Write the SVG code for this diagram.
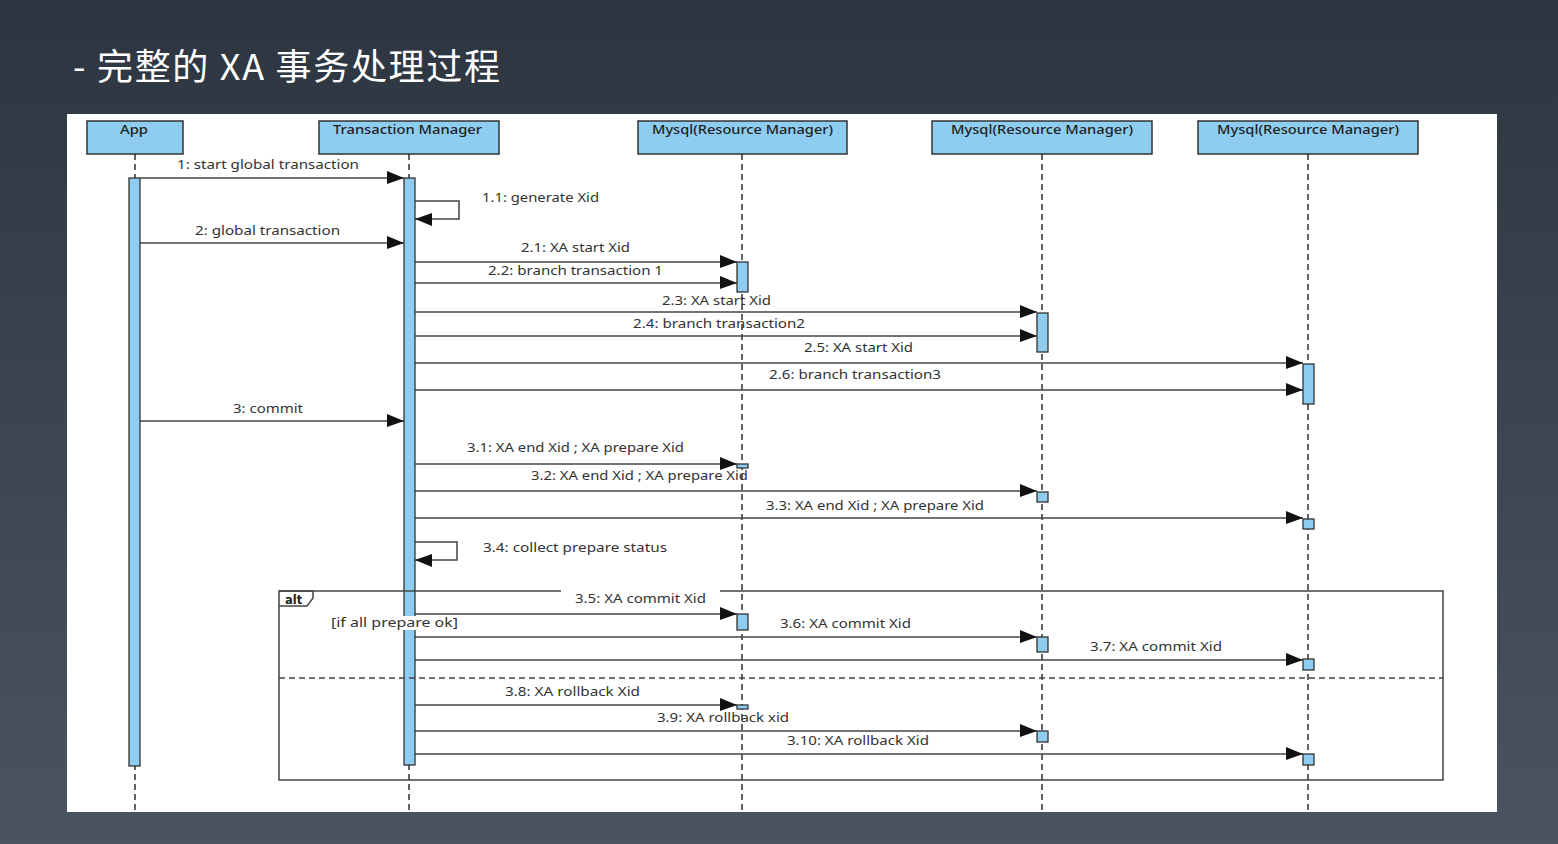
<svg xmlns="http://www.w3.org/2000/svg" width="1558" height="844" viewBox="0 0 1558 844">
<defs>
<linearGradient id="bg" x1="0" y1="0" x2="0" y2="1">
<stop offset="0" stop-color="#2d3540"/>
<stop offset="1" stop-color="#4a5461"/>
</linearGradient>
<marker id="arr" markerUnits="userSpaceOnUse" markerWidth="18" markerHeight="14" viewBox="0 0 18 14" refX="17" refY="7" orient="auto">
<path d="M0,0 L17,7 L0,13 Z" fill="#111"/>
</marker>
<style>
.hdr{fill:#8ecdf0;stroke:#333;stroke-width:1.5}
.act{fill:#8ecdf0;stroke:#333;stroke-width:1.3}
.life{stroke:#222;stroke-width:1.4;stroke-dasharray:6 4;fill:none}
.msg{stroke:#444;stroke-width:1.5;fill:none;marker-end:url(#arr)}
.frame{stroke:#444;stroke-width:1.5;fill:none}
.lbl{font-family:"Noto Sans","DejaVu Sans",sans-serif;font-size:12.5px;fill:#333}
.hl{font-family:"Noto Sans","DejaVu Sans",sans-serif;font-size:13px;font-weight:500;fill:#222}
.title{font-family:"Noto Sans CJK SC","Noto Sans",sans-serif;font-size:36px;fill:#ffffff}
</style>
</defs>
<rect x="0" y="0" width="1558" height="844" fill="url(#bg)"/>
<text class="title" x="73" y="80" textLength="427" lengthAdjust="spacing">- 完整的 XA 事务处理过程</text>
<rect x="67" y="114" width="1430" height="698" fill="#ffffff"/>

<g id="app">
<rect class="hdr" x="87" y="121" width="96" height="33"/>
<text class="hl" x="120" y="134" textLength="28" lengthAdjust="spacingAndGlyphs">App</text>
<line class="life" x1="135" y1="154" x2="135" y2="812"/>
<rect class="act" x="129" y="178" width="11" height="588"/>
</g>

<g id="tm">
<rect class="hdr" x="319" y="121" width="180" height="33"/>
<text class="hl" x="333" y="134" textLength="149" lengthAdjust="spacingAndGlyphs">Transaction Manager</text>
<line class="life" x1="409" y1="154" x2="409" y2="812"/>
<rect class="act" x="404" y="178" width="11" height="587"/>
</g>

<g id="rm1">
<rect class="hdr" x="638" y="121" width="209" height="33"/>
<text class="hl" x="652" y="134" textLength="181" lengthAdjust="spacingAndGlyphs">Mysql(Resource Manager)</text>
<line class="life" x1="742" y1="154" x2="742" y2="812"/>
<rect class="act" x="737" y="262" width="11" height="30"/>
<rect class="act" x="737" y="464" width="11" height="4"/>
<rect class="act" x="737" y="614" width="11" height="16"/>
<rect class="act" x="737" y="705" width="11" height="4"/>
</g>

<g id="rm2">
<rect class="hdr" x="932" y="121" width="220" height="33"/>
<text class="hl" x="951" y="134" textLength="182" lengthAdjust="spacingAndGlyphs">Mysql(Resource Manager)</text>
<line class="life" x1="1042" y1="154" x2="1042" y2="812"/>
<rect class="act" x="1037" y="313" width="11" height="39"/>
<rect class="act" x="1037" y="492" width="11" height="10"/>
<rect class="act" x="1037" y="637" width="11" height="15"/>
<rect class="act" x="1037" y="731" width="11" height="11"/>
</g>

<g id="rm3">
<rect class="hdr" x="1198" y="121" width="220" height="33"/>
<text class="hl" x="1217" y="134" textLength="182" lengthAdjust="spacingAndGlyphs">Mysql(Resource Manager)</text>
<line class="life" x1="1308" y1="154" x2="1308" y2="812"/>
<rect class="act" x="1303" y="364" width="11" height="40"/>
<rect class="act" x="1303" y="519" width="11" height="10"/>
<rect class="act" x="1303" y="659" width="11" height="11"/>
<rect class="act" x="1303" y="754" width="11" height="11"/>
</g>

<g id="frame-alt">
<path class="frame" d="M561,591 H279 V780 H1443 V591 H720"/>
<path class="frame" d="M279,591 H313 V598 L307,606 H279" fill="#fff"/>
<text x="285" y="604" style="font-family:'DejaVu Sans','Liberation Sans',sans-serif;font-size:11.5px;font-weight:bold;fill:#222">alt</text>
<line x1="279" y1="678" x2="1443" y2="678" stroke="#444" stroke-width="1.4" stroke-dasharray="6 4"/>
<rect x="329" y="616" width="131" height="14" fill="#ffffff"/>
<text class="lbl" x="331" y="627" textLength="127" lengthAdjust="spacingAndGlyphs">[if all prepare ok]</text>
</g>

<g id="connectors">
<line class="msg" x1="140" y1="178" x2="404" y2="178"/>
<path class="msg" d="M415,201 H459 V219 H415"/>
<line class="msg" x1="140" y1="243" x2="404" y2="243"/>
<line class="msg" x1="415" y1="262" x2="737" y2="262"/>
<line class="msg" x1="415" y1="283" x2="737" y2="283"/>
<line class="msg" x1="415" y1="312" x2="1037" y2="312"/>
<line class="msg" x1="415" y1="336" x2="1037" y2="336"/>
<line class="msg" x1="415" y1="363" x2="1303" y2="363"/>
<line class="msg" x1="415" y1="390" x2="1303" y2="390"/>
<line class="msg" x1="140" y1="421" x2="404" y2="421"/>
<line class="msg" x1="415" y1="464" x2="737" y2="464"/>
<line class="msg" x1="415" y1="491" x2="1037" y2="491"/>
<line class="msg" x1="415" y1="518" x2="1303" y2="518"/>
<path class="msg" d="M415,542 H457 V560 H415"/>
<line class="msg" x1="415" y1="614" x2="737" y2="614"/>
<line class="msg" x1="415" y1="637" x2="1037" y2="637"/>
<line class="msg" x1="415" y1="660" x2="1303" y2="660"/>
<line class="msg" x1="415" y1="705" x2="737" y2="705"/>
<line class="msg" x1="415" y1="731" x2="1037" y2="731"/>
<line class="msg" x1="415" y1="754" x2="1303" y2="754"/>

<text class="lbl" x="177" y="169" textLength="182" lengthAdjust="spacingAndGlyphs">1: start global transaction</text>
<text class="lbl" x="482" y="202" textLength="117" lengthAdjust="spacingAndGlyphs">1.1: generate Xid</text>
<text class="lbl" x="195" y="235" textLength="145" lengthAdjust="spacingAndGlyphs">2: global transaction</text>
<text class="lbl" x="521" y="252" textLength="109" lengthAdjust="spacingAndGlyphs">2.1: XA start Xid</text>
<text class="lbl" x="488" y="275" textLength="175" lengthAdjust="spacingAndGlyphs">2.2: branch transaction 1</text>
<text class="lbl" x="662" y="305" textLength="109" lengthAdjust="spacingAndGlyphs">2.3: XA start Xid</text>
<text class="lbl" x="633" y="328" textLength="172" lengthAdjust="spacingAndGlyphs">2.4: branch transaction2</text>
<text class="lbl" x="804" y="352" textLength="109" lengthAdjust="spacingAndGlyphs">2.5: XA start Xid</text>
<text class="lbl" x="769" y="379" textLength="172" lengthAdjust="spacingAndGlyphs">2.6: branch transaction3</text>
<text class="lbl" x="233" y="413" textLength="70" lengthAdjust="spacingAndGlyphs">3: commit</text>
<text class="lbl" x="467" y="452" textLength="217" lengthAdjust="spacingAndGlyphs">3.1: XA end Xid ; XA prepare Xid</text>
<text class="lbl" x="531" y="480" textLength="217" lengthAdjust="spacingAndGlyphs">3.2: XA end Xid ; XA prepare Xid</text>
<text class="lbl" x="766" y="510" textLength="218" lengthAdjust="spacingAndGlyphs">3.3: XA end Xid ; XA prepare Xid</text>
<text class="lbl" x="483" y="552" textLength="184" lengthAdjust="spacingAndGlyphs">3.4: collect prepare status</text>
<text class="lbl" x="575" y="603" textLength="131" lengthAdjust="spacingAndGlyphs">3.5: XA commit Xid</text>
<text class="lbl" x="780" y="628" textLength="131" lengthAdjust="spacingAndGlyphs">3.6: XA commit Xid</text>
<text class="lbl" x="1090" y="651" textLength="132" lengthAdjust="spacingAndGlyphs">3.7: XA commit Xid</text>
<text class="lbl" x="505" y="696" textLength="135" lengthAdjust="spacingAndGlyphs">3.8: XA rollback Xid</text>
<text class="lbl" x="657" y="722" textLength="132" lengthAdjust="spacingAndGlyphs">3.9: XA rollback xid</text>
<text class="lbl" x="787" y="745" textLength="142" lengthAdjust="spacingAndGlyphs">3.10: XA rollback Xid</text>
</g>
</svg>
